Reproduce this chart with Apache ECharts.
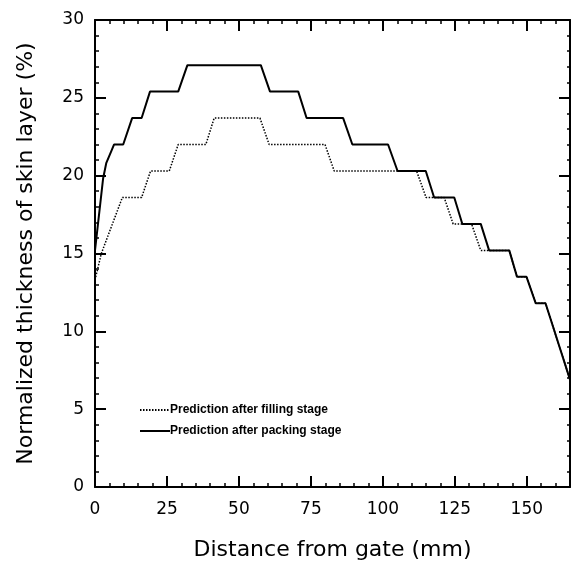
<!DOCTYPE html>
<html>
<head>
<meta charset="utf-8">
<script src="https://cdn.jsdelivr.net/npm/echarts@6/dist/echarts.min.js"></script>
<style>html,body{margin:0;padding:0;background:#fff}#c{width:571px;height:563px}</style>
</head>
<body>
<div id="c"></div>
<script>
const xTicks = [0, 25, 50, 75, 100, 125, 150];
const yTicks = [0, 5, 10, 15, 20, 25, 30];

const packX = [0, 2.8, 3.9, 5.7, 6.6, 9.8, 12.9, 16.2, 19.1, 28.9, 32.1, 57.6, 60.8, 70.6, 73.5, 86.2, 89.4, 101.8, 105.1, 114.9, 117.8, 124.8, 127.6, 134.0, 136.9, 143.9, 146.6, 149.9, 153.1, 156.5, 165];
const packY = [15.2, 19.8, 20.8, 21.6, 22.0, 22.0, 23.7, 23.7, 25.4, 25.4, 27.1, 27.1, 25.4, 25.4, 23.7, 23.7, 22.0, 22.0, 20.3, 20.3, 18.6, 18.6, 16.9, 16.9, 15.2, 15.2, 13.5, 13.5, 11.8, 11.8, 6.9];

const fillX = [0, 2.2, 9.5, 16.2, 19.3, 25.8, 28.9, 38.5, 41.4, 57.3, 60.5, 79.9, 83.1, 111.7, 115.0, 121.3, 124.4, 130.8, 134.0, 143.9, 146.6, 149.9, 153.1, 156.5, 165];
const fillY = [13.3, 15.0, 18.6, 18.6, 20.3, 20.3, 22.0, 22.0, 23.7, 23.7, 22.0, 22.0, 20.3, 20.3, 18.6, 18.6, 16.9, 16.9, 15.2, 15.2, 13.5, 13.5, 11.8, 11.8, 6.9];

const seriesNames = ['Prediction after filling stage', 'Prediction after packing stage'];

const zip = (xs, ys) => xs.map((x, i) => [x, ys[i]]);

function axisStyle(minorLen) {
  return {
    axisLine: { show: true, onZero: false, lineStyle: { color: '#000', width: 2 } },
    axisTick: { show: true, inside: true, length: 11, lineStyle: { color: '#000', width: 2 } },
    minorTick: { show: true, splitNumber: 5, length: minorLen, lineStyle: { color: '#000', width: 1.5 } },
    splitLine: { show: false },
    minorSplitLine: { show: false }
  };
}
const labelStyle = { color: '#000', fontSize: 17, fontFamily: 'DejaVu Sans' };

const chart = echarts.init(document.getElementById('c'), null, { renderer: 'canvas' });
chart.setOption({
  animation: false,
  backgroundColor: '#fff',
  grid: { left: 95, right: 1, top: 20, bottom: 76, containLabel: false, outerBoundsMode: 'none' },
  xAxis: [
    Object.assign(axisStyle(4), {
      type: 'value', position: 'bottom', min: 0, max: 165, interval: 25,
      axisLabel: Object.assign({ margin: 14, showMaxLabel: false,
        formatter: v => xTicks.includes(v) ? String(v) : '' }, labelStyle),
      name: 'Distance from gate (mm)', nameLocation: 'middle', nameGap: 52,
      nameTextStyle: { color: '#000', fontSize: 22, fontFamily: 'DejaVu Sans' }
    }),
    Object.assign(axisStyle(4), {
      type: 'value', position: 'top', min: 0, max: 165, interval: 25,
      axisLabel: { show: false }
    })
  ],
  yAxis: [
    Object.assign(axisStyle(4), {
      type: 'value', position: 'left', min: 0, max: 30, interval: 5,
      axisLabel: Object.assign({ margin: 11,
        formatter: v => yTicks.includes(v) ? String(v) : '' }, labelStyle),
      name: 'Normalized thickness of skin layer (%)', nameLocation: 'middle', nameGap: 58,
      nameTextStyle: { color: '#000', fontSize: 22, fontFamily: 'DejaVu Sans' }
    }),
    Object.assign(axisStyle(3), {
      type: 'value', position: 'right', min: 0, max: 30, interval: 5,
      axisLabel: { show: false }
    })
  ],
  legend: {
    orient: 'vertical', left: 134, top: 399, itemWidth: 30, itemHeight: 14, itemGap: 9,
    data: seriesNames,
    itemStyle: { opacity: 0 },
    textStyle: { color: '#000', fontSize: 12, fontWeight: 'bold', fontFamily: 'Liberation Sans', padding: [0, 0, 0, -5] }
  },
  series: [
    {
      name: seriesNames[0], type: 'line', data: zip(fillX, fillY), symbol: 'none',
      lineStyle: { color: '#000', width: 1.5, type: [1.5, 1.5] }, itemStyle: { color: '#000' }, z: 2
    },
    {
      name: seriesNames[1], type: 'line', data: zip(packX, packY), symbol: 'none',
      lineStyle: { color: '#000', width: 2, type: 'solid' }, itemStyle: { color: '#000' }, z: 3
    }
  ]
});
</script>
</body>
</html>
